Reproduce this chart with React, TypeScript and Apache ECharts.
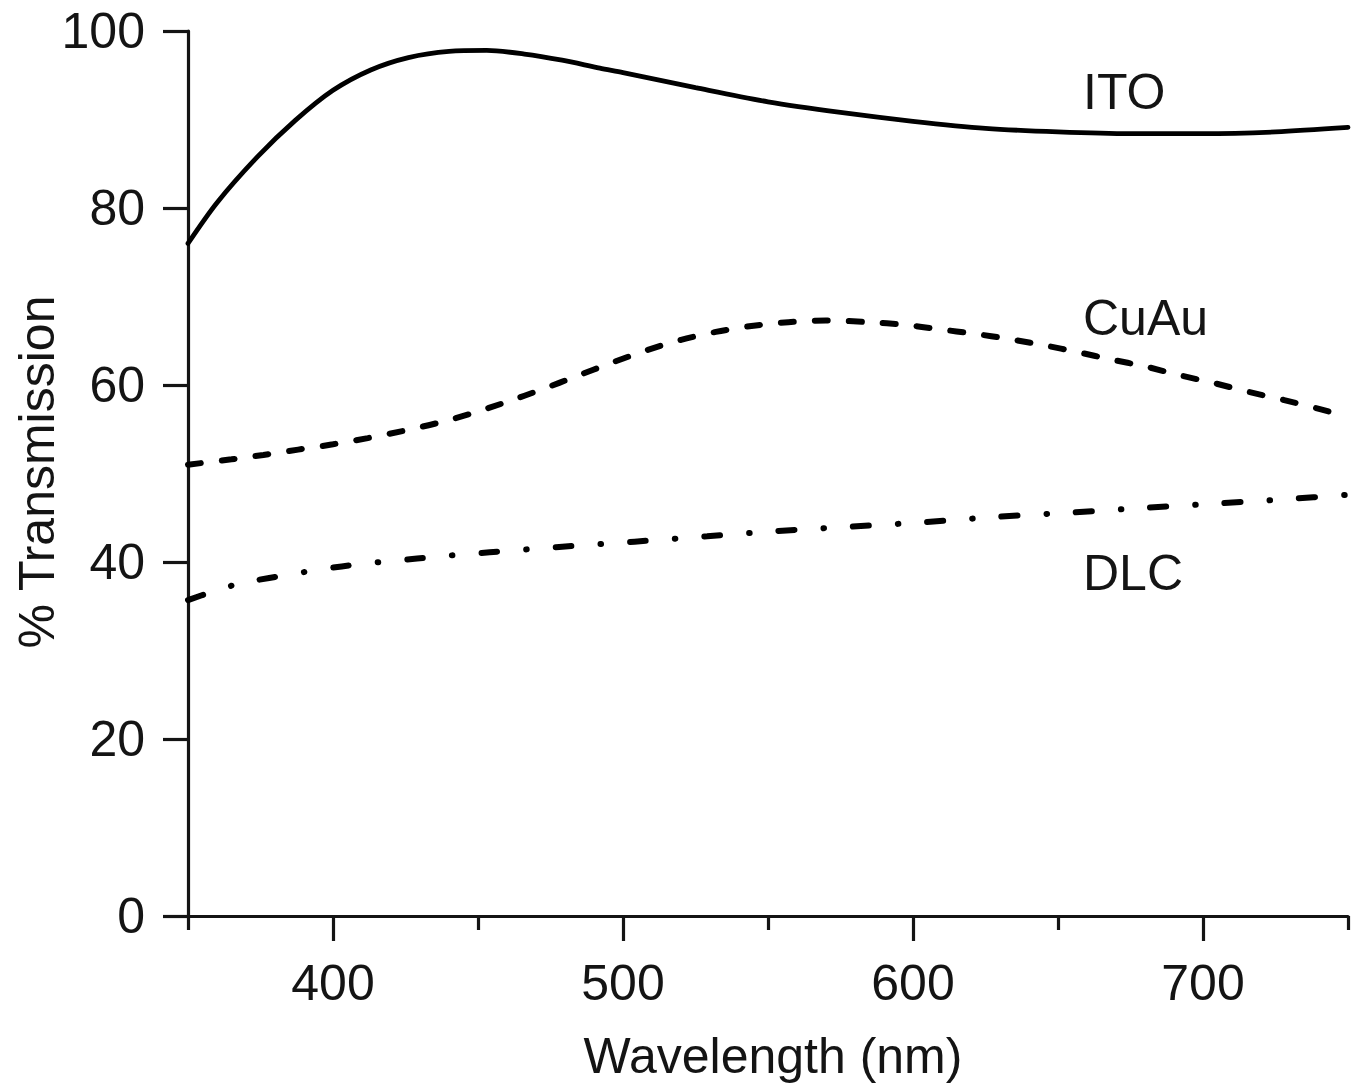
import React, { useEffect, useRef } from "react";
import * as echarts from "echarts";

const itoWavelength = [350, 360, 374, 387, 400, 413, 426, 440, 453, 466, 479, 492, 500, 525, 550, 575, 600, 625, 650, 675, 700, 725, 750];
const itoValues = [76.0, 80.6, 85.8, 89.9, 93.3, 95.6, 97.0, 97.7, 97.8, 97.4, 96.7, 95.8, 95.3, 93.6, 92.0, 90.8, 89.8, 89.0, 88.6, 88.4, 88.4, 88.6, 89.1];

const cuauWavelength = [350, 365, 376, 388, 400, 412, 424, 436, 448, 460, 472, 484, 496, 508, 520, 532, 545, 557, 570, 585, 597, 609, 621, 633, 645, 657, 668, 680, 692, 704, 716, 728, 740, 750];
const cuauValues = [51.0, 51.6, 52.1, 52.7, 53.3, 54.0, 54.8, 55.7, 56.8, 58.1, 59.5, 61.0, 62.5, 63.9, 65.1, 66.0, 66.7, 67.1, 67.3, 67.1, 66.8, 66.3, 65.8, 65.2, 64.5, 63.7, 62.9, 62.1, 61.1, 60.2, 59.2, 58.3, 57.3, 56.4];

const dlcWavelength = [350, 358, 367, 378, 403, 429, 454, 478, 504, 529, 553, 579, 604, 629, 655, 679, 704, 729, 750];
const dlcValues = [35.7, 36.6, 37.5, 38.2, 39.5, 40.4, 41.1, 41.7, 42.3, 42.9, 43.5, 44.0, 44.5, 45.1, 45.6, 46.1, 46.6, 47.1, 47.6];

const xMajorTicks = [400, 500, 600, 700];
const xMinorTicks = [350, 450, 550, 650, 750];
const seriesNames = ["ITO", "CuAu", "DLC"];

const FONT = "'Liberation Sans', Arial, Helvetica, sans-serif";
const INK = "#141414";

function pairs(xs: number[], ys: number[]) {
  return xs.map((x, i) => [x, ys[i]]);
}

export default function App() {
  const ref = useRef<HTMLDivElement>(null);

  useEffect(() => {
    if (!ref.current) return;
    const chart = echarts.init(ref.current, null, { renderer: "svg" });
    const axisLine = { show: true, lineStyle: { color: INK, width: 3.2 } };
    const labelStyle = { color: INK, fontSize: 50, fontFamily: FONT };
    chart.setOption({
      animation: false,
      backgroundColor: "#ffffff",
      grid: { left: 188, right: 13, top: 31, bottom: 175, outerBoundsMode: "none", containLabel: false },
      xAxis: [
        {
          type: "value",
          min: 350,
          max: 750,
          position: "bottom",
          axisLine,
          axisTick: { show: true, customValues: xMajorTicks, length: 25, lineStyle: { color: INK, width: 3.2 } },
          axisLabel: { ...labelStyle, customValues: xMajorTicks, margin: 42 },
          splitLine: { show: false },
        },
        {
          type: "value",
          min: 350,
          max: 750,
          position: "bottom",
          gridIndex: 0,
          axisLine: { show: false },
          axisTick: { show: true, customValues: xMinorTicks, length: 14, lineStyle: { color: INK, width: 3.2 } },
          axisLabel: { show: false },
          splitLine: { show: false },
        },
      ],
      yAxis: {
        type: "value",
        min: 0,
        max: 100,
        interval: 20,
        axisLine,
        axisTick: { show: true, length: 25, lineStyle: { color: INK, width: 3.2 } },
        axisLabel: { ...labelStyle, margin: 43 },
        splitLine: { show: false },
      },
      series: [
        {
          name: seriesNames[0],
          type: "line",
          xAxisIndex: 0,
          data: pairs(itoWavelength, itoValues),
          showSymbol: false,
          symbol: "none",
          smooth: 0.3,
          lineStyle: { color: "#000", width: 4.8, cap: "round" },
        },
        {
          name: seriesNames[1],
          type: "line",
          xAxisIndex: 0,
          data: pairs(cuauWavelength, cuauValues),
          showSymbol: false,
          symbol: "none",
          smooth: 0.3,
          lineStyle: { color: "#000", width: 6, type: [13, 21], cap: "round" },
        },
        {
          name: seriesNames[2],
          type: "line",
          xAxisIndex: 0,
          data: pairs(dlcWavelength, dlcValues),
          showSymbol: false,
          symbol: "none",
          smooth: 0.3,
          lineStyle: { color: "#000", width: 6, type: [16, 29, 0.5, 29], cap: "round" },
        },
      ],
      graphic: [
        {
          type: "text",
          left: 1083,
          top: 67,
          style: { text: seriesNames[0], font: `50px ${FONT}`, fill: INK },
        },
        {
          type: "text",
          left: 1083,
          top: 293,
          style: { text: seriesNames[1], font: `50px ${FONT}`, fill: INK },
        },
        {
          type: "text",
          left: 1083,
          top: 548,
          style: { text: seriesNames[2], font: `50px ${FONT}`, fill: INK },
        },
        {
          type: "text",
          x: 773,
          y: 1056,
          style: { text: "Wavelength (nm)", font: `50px ${FONT}`, fill: INK, align: "center", verticalAlign: "middle" },
        },
        {
          type: "text",
          x: 37,
          y: 472,
          rotation: Math.PI / 2,
          style: { text: "% Transmission", font: `50px ${FONT}`, fill: INK, align: "center", verticalAlign: "middle" },
        },
      ],
    });
    return () => chart.dispose();
  }, []);

  return (
    <div
      ref={ref}
      style={{ position: "fixed", left: 0, top: 0, width: 1361, height: 1091, background: "#fff" }}
    />
  );
}
